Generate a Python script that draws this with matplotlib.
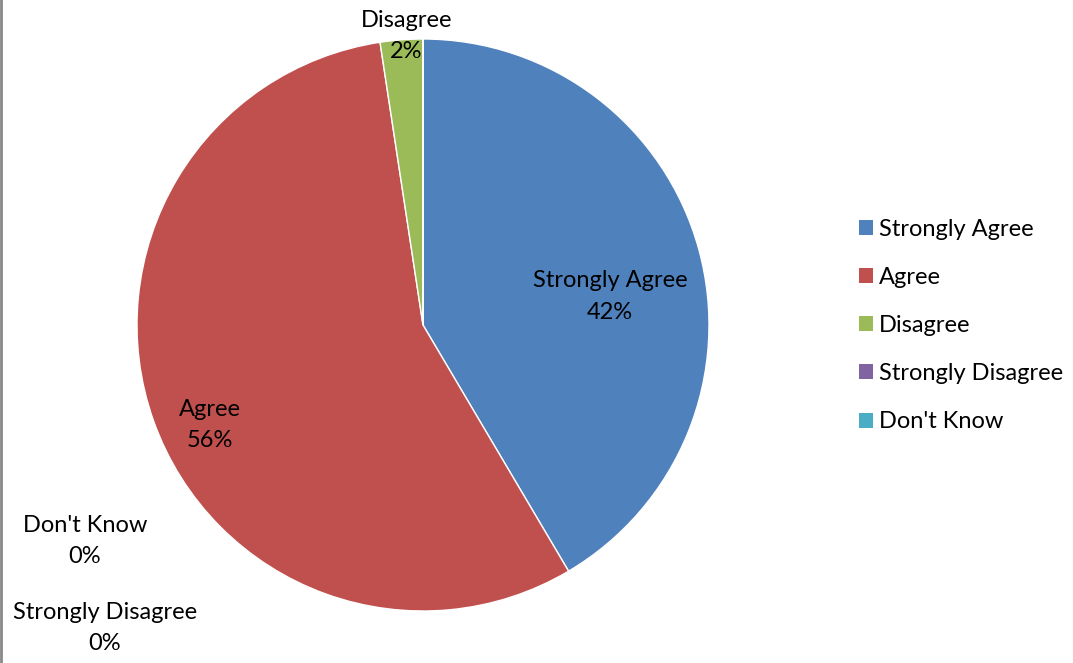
import matplotlib.pyplot as plt
from matplotlib.patches import Patch
from matplotlib.lines import Line2D

categories = ['Strongly Agree', 'Agree', 'Disagree', 'Strongly Disagree', "Don't Know"]
shares = [41.5, 56.1, 2.4, 0, 0]
colors = ['#4F81BD', '#C0504D', '#9BBB59', '#8064A2', '#4BACC6']

# label anchor points (data units, pie radius = 1)
label_pos = [(0.654, 0.10), (-0.745, -0.35), (-0.059, 1.01), (-1.112, -1.06), (-1.182, -0.755)]

plt.rcParams['font.family'] = ['Lato', 'DejaVu Sans']

fig = plt.figure(figsize=(10.73, 6.63), dpi=100)
ax = fig.add_axes([137 / 1073, 52 / 663, 572 / 1073, 572 / 663])
ax.pie(shares, colors=colors, startangle=90, counterclock=False, radius=1,
       wedgeprops=dict(edgecolor='white', linewidth=1))
ax.set_xlim(-1, 1)
ax.set_ylim(-1, 1)
ax.set_aspect('equal')
ax.axis('off')

total = sum(shares)
for cat, v, (x, y) in zip(categories, shares, label_pos):
    ax.text(x, y, f'{cat}\n{100 * v / total:.0f}%', ha='center', va='center',
            fontsize=17, linespacing=1.6, color='black')

handles = [Patch(facecolor=c, edgecolor='none') for c in colors]
fig.legend(handles, categories, loc='upper left', bbox_to_anchor=(847 / 1073, 1 - 207 / 663),
           frameon=False, fontsize=17, handlelength=0.6, handleheight=0.6,
           handletextpad=0.25, labelspacing=1.15, borderpad=0)

fig.add_artist(Line2D([0.001, 0.001], [0, 1], color='#888888', linewidth=2))

fig.savefig('out.png', dpi=100)
